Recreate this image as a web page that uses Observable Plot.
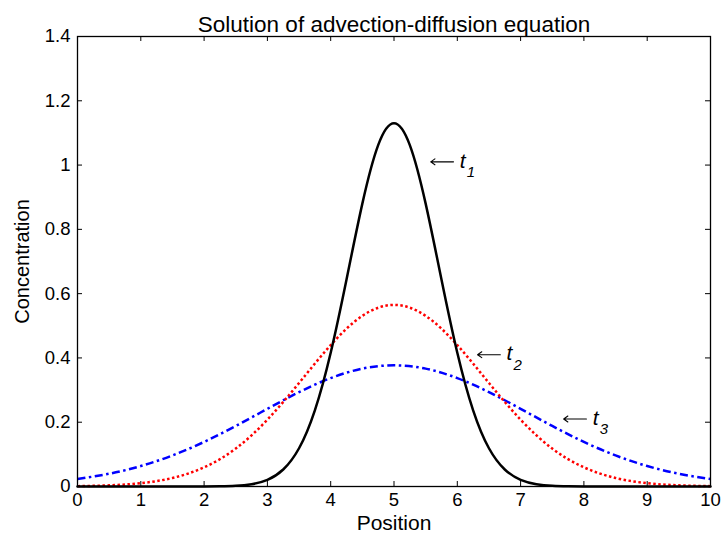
<!DOCTYPE html>
<html><head><meta charset="utf-8">
<script src="https://cdn.jsdelivr.net/npm/d3@7"></script>
<script src="https://cdn.jsdelivr.net/npm/@observablehq/plot@0.6"></script>
<style>body{margin:0;background:#fff}</style>
</head><body><div id="chart"></div>
<script>
// t1 sampled every 0.25
const x1 = [0,0.25,0.5,0.75,1,1.25,1.5,1.75,2,2.25,2.5,2.75,3,3.25,3.5,3.75,4,4.25,4.5,4.75,5,5.25,5.5,5.75,6,6.25,6.5,6.75,7,7.25,7.5,7.75,8,8.25,8.5,8.75,9,9.25,9.5,9.75,10];
const t1 = [0,0,0,0,0,0,0,0,0,0.0006,0.0022,0.0072,0.0207,0.053,0.119,0.237,0.416,0.644,0.880,1.062,1.13,1.062,0.880,0.644,0.416,0.237,0.119,0.053,0.0207,0.0072,0.0022,0.0006,0,0,0,0,0,0,0,0,0];
// t2, t3 sampled every 0.5
const x23 = [0,0.5,1,1.5,2,2.5,3,3.5,4,4.5,5,5.5,6,6.5,7,7.5,8,8.5,9,9.5,10];
const t2 = [0.0011,0.0036,0.0103,0.0265,0.0596,0.118,0.208,0.322,0.440,0.531,0.565,0.531,0.440,0.322,0.208,0.118,0.0596,0.0265,0.0103,0.0036,0.0011];
const t3 = [0.0234,0.0397,0.0637,0.0967,0.1387,0.1883,0.2417,0.2936,0.3373,0.3667,0.377,0.3667,0.3373,0.2936,0.2417,0.1883,0.1387,0.0967,0.0637,0.0397,0.0234];
const xTicks = [0,1,2,3,4,5,6,7,8,9,10];
const yTicks = [0,0.2,0.4,0.6,0.8,1,1.2,1.4];
const annX = [5.58,6.32,7.68];
const annY = [1.01,0.41,0.21];
const annSub = ["1","2","3"];

const d1 = x1.map((x,i)=>({x, y:t1[i]}));
const d2 = x23.map((x,i)=>({x, y:t2[i]}));
const d3 = x23.map((x,i)=>({x, y:t3[i]}));
const ann = annX.map((x,i)=>({x, y:annY[i], s:annSub[i]}));

const W = 721, H = 537, mL = 77, mR = 11, mT = 36, mB = 51;
const pw = W - mL - mR, ph = H - mT - mB;
const font = "Liberation Sans, Arial, sans-serif";

const chart = Plot.plot({
  width: W, height: H,
  marginLeft: mL, marginRight: mR, marginTop: mT, marginBottom: mB,
  style: {fontFamily: font, fontSize: "18px", background: "#fff", color: "#000"},
  x: {domain: [0,10]},
  y: {domain: [0,1.4]},
  marks: [
    Plot.line(d3, {x:"x", y:"y", stroke:"#0000ff", strokeWidth:2.5, strokeDasharray:"8,3.5,2.5,3.5", strokeLinecap:"butt", curve:"natural"}),
    Plot.line(d2, {x:"x", y:"y", stroke:"#ff0000", strokeWidth:2.5, strokeDasharray:"2.5,2.5", strokeLinecap:"butt", curve:"natural"}),
    Plot.line(d1, {x:"x", y:"y", stroke:"#000", strokeWidth:2.5, curve:"natural"}),
    Plot.frame({stroke:"#000", strokeWidth:1.3}),
    Plot.tickX(xTicks, {x:d=>d, insetTop: ph-5, stroke:"#000"}),
    Plot.tickX(xTicks, {x:d=>d, insetBottom: ph-5, stroke:"#000"}),
    Plot.tickY(yTicks, {y:d=>d, insetRight: pw-5, stroke:"#000"}),
    Plot.tickY(yTicks, {y:d=>d, insetLeft: pw-5, stroke:"#000"}),
    Plot.axisX(xTicks, {tickSize:0, tickPadding:6, fontSize:18.5, label:null}),
    Plot.axisY(yTicks, {tickSize:0, tickPadding:7, fontSize:18.5, label:null, tickFormat: d=>String(d)}),
    Plot.text(["Position"], {frameAnchor:"bottom", dy:43, fontSize:21}),
    Plot.text(["Concentration"], {frameAnchor:"left", textAnchor:"middle", dx:-55, rotate:-90, fontSize:20}),
    Plot.text(["Solution of advection-diffusion equation"], {frameAnchor:"top", dy:-20, fontSize:22.5}),
    Plot.arrow(ann, {x1:d=>d.x+0.36, y1:"y", x2:"x", y2:"y", stroke:"#000", strokeWidth:1.1, headLength:7, headAngle:70}),
    Plot.text(ann, {x:"x", y:"y", text:()=>"t", textAnchor:"start", dx:29, dy:-1, fontSize:21, fontStyle:"italic"}),
    Plot.text(ann, {x:"x", y:"y", text:"s", textAnchor:"start", dx:36, dy:10, fontSize:15, fontStyle:"italic"})
  ]
});
document.getElementById("chart").appendChild(chart);
</script></body></html>
